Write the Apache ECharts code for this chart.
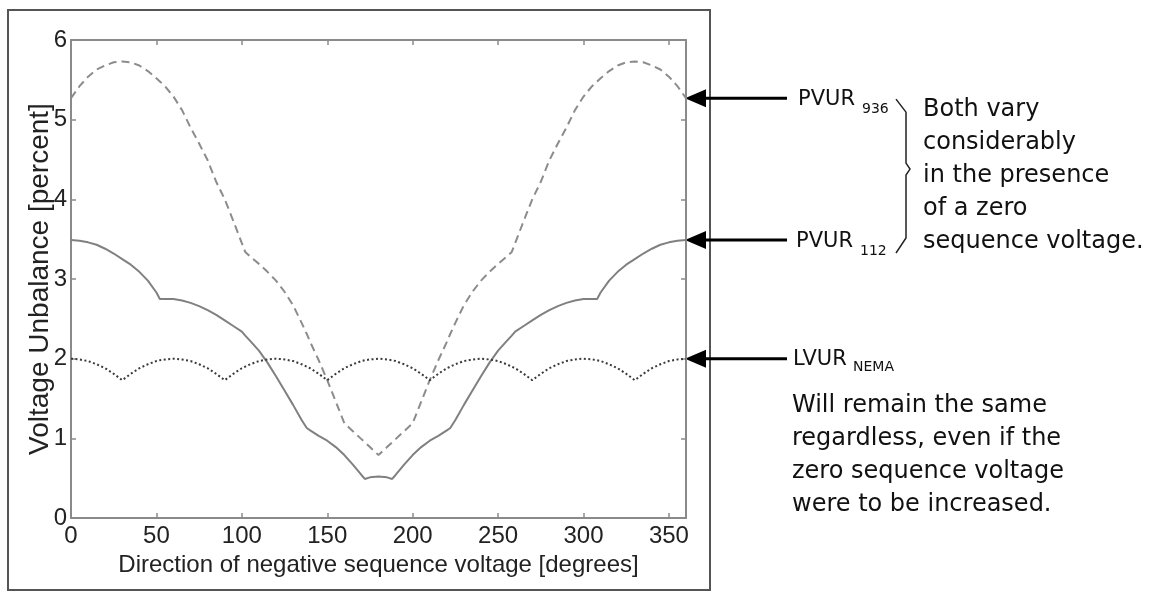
<!DOCTYPE html>
<html><head><meta charset="utf-8">
<script src="https://cdn.jsdelivr.net/npm/echarts@6/dist/echarts.min.js"></script>
<style>html,body{margin:0;padding:0;background:#fff}#c{width:1152px;height:592px}</style>
</head><body><div id="c"></div>
<script>
// Direction of negative sequence voltage [degrees]
const angles = [0,5,10,15,20,25,30,35,40,45,50,52,55,60,65,70,75,80,85,90,95,100,102,105,110,115,120,125,130,135,138,140,145,150,155,160,165,170,172,175,180,
  185,188,190,195,200,205,210,215,220,222,225,230,235,240,245,250,255,258,260,265,270,275,280,285,290,295,300,305,308,310,315,320,325,330,335,340,345,350,355,360];
// PVUR 936 (dashed)
const pvur936 = [5.27,5.42,5.54,5.63,5.68,5.72,5.73,5.72,5.68,5.61,5.52,5.48,5.42,5.29,5.12,4.9,4.7,4.49,4.22,4.0,3.73,3.45,3.34,3.28,3.19,3.09,2.98,2.84,2.67,2.45,2.31,2.21,1.98,1.73,1.46,1.19,1.09,0.99,0.95,0.89,0.79,
  0.89,0.95,0.99,1.09,1.19,1.46,1.73,1.98,2.21,2.31,2.45,2.67,2.84,2.98,3.09,3.19,3.28,3.34,3.45,3.73,4.0,4.22,4.49,4.7,4.9,5.12,5.29,5.42,5.48,5.52,5.61,5.68,5.72,5.73,5.72,5.68,5.63,5.54,5.42,5.27];
// PVUR 112 (solid)
const pvur112 = [3.49,3.48,3.46,3.43,3.38,3.32,3.25,3.18,3.09,2.98,2.83,2.75,2.75,2.75,2.73,2.7,2.66,2.61,2.55,2.48,2.41,2.34,2.29,2.22,2.1,1.95,1.78,1.6,1.42,1.23,1.13,1.1,1.03,0.97,0.89,0.79,0.67,0.54,0.49,0.51,0.52,
  0.51,0.49,0.54,0.67,0.79,0.89,0.97,1.03,1.1,1.13,1.23,1.42,1.6,1.78,1.95,2.1,2.22,2.29,2.34,2.41,2.48,2.55,2.61,2.66,2.7,2.73,2.75,2.75,2.75,2.83,2.98,3.09,3.18,3.25,3.32,3.38,3.43,3.46,3.48,3.49];
// LVUR NEMA (dotted)
const lvurNema = [2.0,1.99,1.97,1.93,1.88,1.81,1.73,1.81,1.88,1.93,1.97,1.98,1.99,2.0,1.99,1.97,1.93,1.88,1.81,1.73,1.81,1.88,1.9,1.93,1.97,1.99,2.0,1.99,1.97,1.93,1.9,1.88,1.81,1.73,1.81,1.88,1.93,1.97,1.98,1.99,2.0,
  1.99,1.98,1.97,1.93,1.88,1.81,1.73,1.81,1.88,1.9,1.93,1.97,1.99,2.0,1.99,1.97,1.93,1.9,1.88,1.81,1.73,1.81,1.88,1.93,1.97,1.99,2.0,1.99,1.98,1.97,1.93,1.88,1.81,1.73,1.81,1.88,1.93,1.97,1.99,2.0];

const xName = 'Direction of negative sequence voltage [degrees]';
const yName = 'Voltage Unbalance [percent]';
const noteTop = ['Both vary', 'considerably', 'in the presence', 'of a zero', 'sequence voltage.'];
const noteBottom = ['Will remain the same', 'regardless, even if the', 'zero sequence voltage', 'were to be increased.'];

const pairs = arr => angles.map((a, i) => [a, arr[i]]);
const axisFont = 'Liberation Sans, Arial, sans-serif';
const noteFont = 'DejaVu Sans, Verdana, sans-serif';
const axisLineStyle = { color: '#8a8a8a', width: 2 };
const tickStyle = { show: true, inside: true, length: 5, lineStyle: { color: '#8a8a8a', width: 1.5 } };

const chart = echarts.init(document.getElementById('c'), null, { renderer: 'canvas' });
chart.setOption({
  animation: false,
  backgroundColor: '#fff',
  grid: { left: 71, right: 466, top: 40, bottom: 74, containLabel: false },
  xAxis: [{
    type: 'value', min: 0, max: 360, interval: 50,
    name: xName, nameLocation: 'middle', nameGap: 34,
    nameTextStyle: { fontFamily: axisFont, fontSize: 24, color: '#222' },
    axisLine: { show: true, onZero: false, lineStyle: axisLineStyle },
    axisTick: tickStyle,
    axisLabel: { fontFamily: axisFont, fontSize: 24, color: '#222', margin: 6, showMaxLabel: false },
    splitLine: { show: false }
  }, {
    type: 'value', min: 0, max: 360, interval: 50, position: 'top',
    axisLine: { show: true, onZero: false, lineStyle: axisLineStyle },
    axisTick: tickStyle,
    axisLabel: { show: false }, splitLine: { show: false }
  }],
  yAxis: [{
    type: 'value', min: 0, max: 6, interval: 1,
    name: yName, nameLocation: 'middle', nameGap: 17, nameMoveOverlap: false,
    nameTextStyle: { fontFamily: axisFont, fontSize: 28, color: '#222' },
    axisLine: { show: true, onZero: false, lineStyle: axisLineStyle },
    axisTick: tickStyle,
    axisLabel: { fontFamily: axisFont, fontSize: 24, color: '#222', margin: 4 },
    splitLine: { show: false }
  }, {
    type: 'value', min: 0, max: 6, interval: 1, position: 'right',
    axisLine: { show: true, onZero: false, lineStyle: axisLineStyle },
    axisTick: tickStyle,
    axisLabel: { show: false }, splitLine: { show: false }
  }],
  series: [
    { name: 'PVUR 936', type: 'line', data: pairs(pvur936), showSymbol: false, symbol: 'none',
      lineStyle: { color: '#8c8c8c', width: 2, type: [8, 5] } },
    { name: 'PVUR 112', type: 'line', data: pairs(pvur112), showSymbol: false, symbol: 'none',
      lineStyle: { color: '#808080', width: 2, type: 'solid' } },
    { name: 'LVUR NEMA', type: 'line', data: pairs(lvurNema), showSymbol: false, symbol: 'none',
      lineStyle: { color: '#3a3a3a', width: 2, type: [2, 2.5] } }
  ]
});

// annotations anchored to the end values of each series
const last = angles.length - 1;
const pt = v => chart.convertToPixel({ xAxisIndex: 0, yAxisIndex: 0 }, [angles[last], v]);
const p936 = pt(pvur936[last]), p112 = pt(pvur112[last]), pL = pt(lvurNema[last]);
const tailX = 787;

function arrow(p) {
  return [
    { type: 'line', shape: { x1: p[0] + 18, y1: p[1], x2: tailX, y2: p[1] }, style: { stroke: '#000', lineWidth: 3 } },
    { type: 'polygon', shape: { points: [[p[0] - 1, p[1]], [p[0] + 20, p[1] - 9], [p[0] + 20, p[1] + 9]] }, style: { fill: '#000' } }
  ];
}
function txt(x, y, s, size, va) {
  return { type: 'text', x: x, y: y, style: { text: s, font: size + 'px ' + noteFont, fill: '#111', textAlign: 'left', textVerticalAlign: va || 'middle' } };
}
const midY = (p936[1] + p112[1]) / 2;
const g = [
  { type: 'rect', shape: { x: 8, y: 10, width: 702, height: 580 }, style: { fill: null, stroke: '#555', lineWidth: 2 } },
  ...arrow(p936), ...arrow(p112), ...arrow(pL),
  txt(798, p936[1] + 1, 'PVUR', 21), txt(862, p936[1] + 11, '936', 14),
  txt(796, p112[1] + 2, 'PVUR', 21), txt(860, p112[1] + 11, '112', 14),
  txt(793, pL[1] + 1, 'LVUR', 21), txt(853, pL[1] + 9, 'NEMA', 14),
  { type: 'polyline', shape: { points: [[896, p936[1] + 1], [906, p936[1] + 14], [906, midY - 6], [910, midY], [906, midY + 6], [906, p112[1] - 2], [896, p112[1] + 13]] },
    style: { stroke: '#222', lineWidth: 1.5, fill: null } },
  { type: 'text', x: 923, y: p936[1] - 4.5, style: { text: noteTop.join('\n'), font: '24px ' + noteFont, lineHeight: 33, fill: '#111', textAlign: 'left', textVerticalAlign: 'top' } },
  { type: 'text', x: 792, y: pL[1] + 30.5, style: { text: noteBottom.join('\n'), font: '24px ' + noteFont, lineHeight: 33, fill: '#111', textAlign: 'left', textVerticalAlign: 'top' } }
];
chart.setOption({ graphic: g });
</script>
</body></html>
